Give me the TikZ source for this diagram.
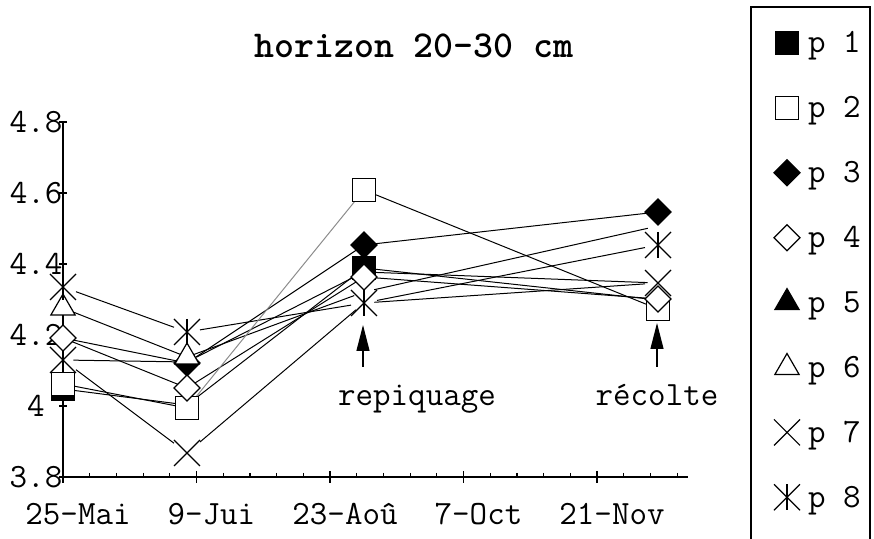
\documentclass[tikz,border=0pt]{standalone}
\usetikzlibrary{shapes.geometric,shapes.misc,arrows.meta,backgrounds}
\tikzset{
  mk/.style={inner sep=0pt, outer sep=0pt, line width=0.6pt, draw=black},
  sqf/.style={mk, rectangle, minimum size=11.5pt, fill=black},
  sqo/.style={mk, rectangle, minimum size=11.5pt, fill=white},
  dmf/.style={mk, diamond, minimum size=13pt, fill=black},
  dmo/.style={mk, diamond, minimum size=13pt, fill=white},
  trf/.style={mk, regular polygon, regular polygon sides=3, minimum size=14pt, fill=black},
  tro/.style={mk, regular polygon, regular polygon sides=3, minimum size=14pt, fill=white},
  crs/.style={mk, cross out, minimum size=13pt},
  ast/.style={crs, append after command={(\tikzlastnode.north) edge[line width=0.6pt] (\tikzlastnode.south)}},
  hid/.style={circle, inner sep=0pt, minimum size=10pt},
  ser/.style={line width=0.5pt, black},
  faint/.style={line width=0.5pt, black!45},
  axis/.style={line width=0.6pt, black},
  lab/.style={font=\ttfamily\fontsize{17}{20}\selectfont, inner sep=0pt, outer sep=0pt},
  ttl/.style={font=\ttfamily\bfseries\fontsize{19}{22}\selectfont, inner sep=0pt},
  annot/.style={line width=0.6pt, -{Triangle[width=6.5pt,length=13pt]}},
}
\begin{document}
\begin{tikzpicture}[x=0.5pt,y=-0.5pt]
\useasboundingbox (0,0) rectangle (874,539);
% title
\node[ttl, anchor=base] (title) at (414,58) {horizon 20-30 cm};
% axes
\coordinate (Ytop) at (63,122);
\coordinate (O) at (63,477);
\coordinate (Xend) at (688,477);
\draw[axis] (Ytop) -- (O) -- (Xend);
\foreach \y/\t in {122/4.8,193/4.6,264/4.4,335/4.2,406/4,477/3.8} {
  \draw[axis] (59,\y) -- (67,\y);
  \node[lab] (yl\y) at (36,\y) {\t};
}
\foreach \j in {1,...,23} {
  \draw[axis] ({63+26.7*\j},473) -- ({63+26.7*\j},477);
}
\foreach \k/\t in {0/25-Mai,1/9-Jui,2/23-Aoû,3/7-Oct,4/21-Nov} {
  \draw[axis] ({63+133.5*\k},471) -- ({63+133.5*\k},483);
  \node[lab, anchor=base] (xl\k) at ({78+133.5*\k},525) {\t};
}
% data markers (x: 63, 187, 364, 658)
% point 1
\node[sqf] (a1) at (63,389) {};
\node[sqo] (b1) at (63,384) {};
\node[hid] (c1) at (63,338) {};
\node[dmo] (d1) at (63,338) {};
\node[hid] (e1) at (63,360) {};
\node[tro] (f1) at (63,308) {};
\node[crs] (g1) at (63,360) {};
\node[ast] (h1) at (63,287) {};
% point 2
\node[hid] (a2) at (187,405) {};
\node[sqo] (b2) at (187,408) {};
\node[dmf] (c2) at (187,363) {};
\node[dmo] (d2) at (187,388) {};
\node[hid] (e2) at (187,362) {};
\node[tro] (f2) at (187,357) {};
\node[crs] (g2) at (187,453) {};
\node[ast] (h2) at (187,332) {};
% point 3
\node[sqf] (a3) at (364,268) {};
\node[sqo] (b3) at (364,190) {};
\node[dmf] (c3) at (364,245) {};
\node[dmo] (d3) at (364,277) {};
\node[hid] (e3) at (364,272) {};
\node[hid] (f3) at (364,292) {};
\node[hid] (g3) at (364,303) {};
\node[ast] (h3) at (364,303) {};
% point 4
\node[hid] (a4) at (658,300) {};
\node[sqo] (b4) at (658,309) {};
\node[dmf] (c4) at (658,212) {};
\node[dmo] (d4) at (658,299) {};
\node[hid] (e4) at (658,283) {};
\node[hid] (f4) at (658,226) {};
\node[crs] (g4) at (658,283) {};
\node[ast] (h4) at (658,245) {};
% series lines
\begin{scope}[on background layer]
\foreach \s in {a,c,d,e,f,g,h} {
  \draw[ser] (\s1) -- (\s2) -- (\s3) -- (\s4);
}
\draw[ser] (b1) -- (b2);
\draw[faint] (b2) -- (b3);
\draw[ser] (b3) -- (b4);
\end{scope}
% annotations
\coordinate (ra1) at (363,367);
\coordinate (ra2) at (363,325);
\draw[annot] (ra1) -- (ra2);
\node[lab, anchor=base] (rep) at (417,406) {repiquage};
\coordinate (rc1) at (657,367);
\coordinate (rc2) at (657,323);
\draw[annot] (rc1) -- (rc2);
\node[lab, anchor=base] (rec) at (657,406) {récolte};
% legend
\coordinate (L1) at (751,539);
\coordinate (L2) at (751,7);
\coordinate (L3) at (870,7);
\coordinate (L4) at (870,539);
\draw[line width=0.7pt] (L1) -- (L2) -- (L3) -- (L4);
\foreach \i/\sty in {1/sqf,2/sqo,3/dmf,4/dmo,5/trf,6/tro,7/crs,8/ast} {
  \node[\sty] (lm\i) at (787,{43+64.9*(\i-1)}) {};
  \node[lab, anchor=base west] (lt\i) at (808,{53+64.9*(\i-1)}) {p \i};
}
\end{tikzpicture}
\end{document}
